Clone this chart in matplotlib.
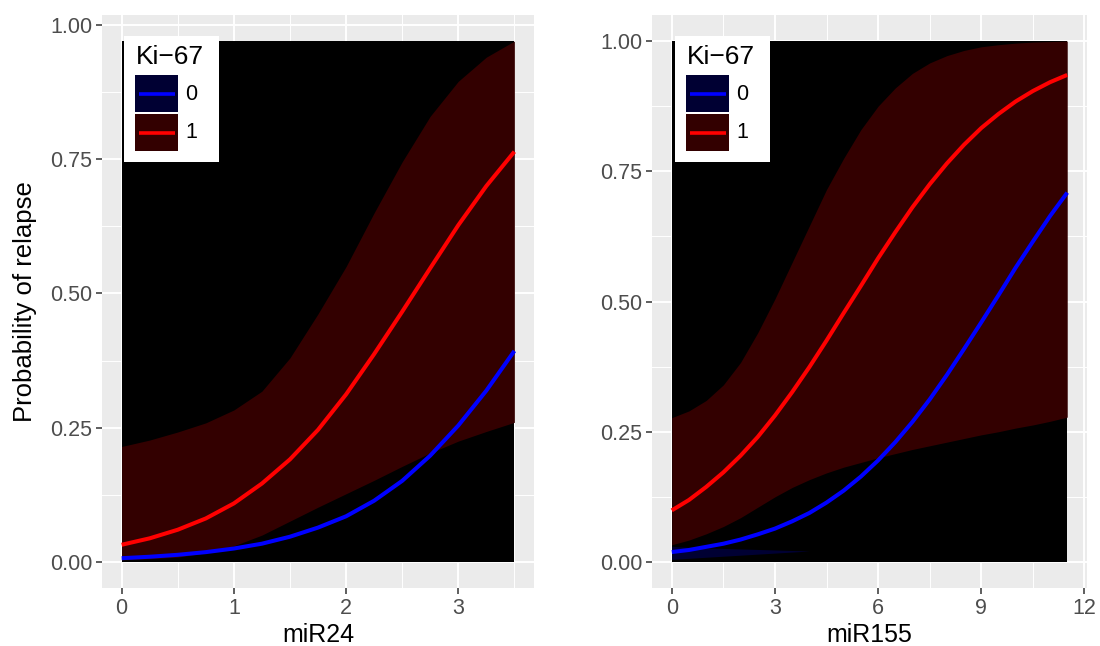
import numpy as np
import matplotlib
matplotlib.use("Agg")
from matplotlib import pyplot as plt
from matplotlib.patches import Rectangle
from matplotlib.lines import Line2D

plt.rcParams['font.family'] = ['Liberation Sans', 'DejaVu Sans']

W, H = 1100, 646

# miR24 panel
mir24 = [0, 0.25, 0.5, 0.75, 1, 1.25, 1.5, 1.75, 2, 2.25, 2.5, 2.75, 3, 3.25, 3.5]
mir24_p0 = [0.007, 0.0097, 0.0133, 0.0183, 0.025, 0.034, 0.047, 0.064, 0.085, 0.114,
            0.151, 0.198, 0.254, 0.319, 0.393]
mir24_p1 = [0.032, 0.044, 0.060, 0.081, 0.109, 0.146, 0.191, 0.246, 0.312, 0.387,
            0.466, 0.547, 0.627, 0.700, 0.764]
mir24_lo1 = [0.004, 0.006, 0.009, 0.017, 0.030, 0.050, 0.076, 0.102, 0.127, 0.152,
             0.178, 0.203, 0.225, 0.243, 0.260]
mir24_hi1 = [0.215, 0.227, 0.242, 0.259, 0.283, 0.318, 0.380, 0.462, 0.550, 0.650,
             0.745, 0.830, 0.895, 0.940, 0.970]

# miR155 panel
mir155 = [0, 0.5, 1, 1.5, 2, 2.5, 3, 3.5, 4, 4.5, 5, 5.5, 6, 6.5, 7, 7.5, 8, 8.5,
          9, 9.5, 10, 10.5, 11, 11.5]
mir155_p0 = [0.019, 0.023, 0.029, 0.035, 0.043, 0.053, 0.064, 0.078, 0.094, 0.114,
             0.137, 0.164, 0.195, 0.230, 0.269, 0.312, 0.359, 0.409, 0.460, 0.512,
             0.565, 0.615, 0.664, 0.709]
mir155_p1 = [0.099, 0.119, 0.144, 0.172, 0.204, 0.240, 0.281, 0.326, 0.374, 0.425,
             0.478, 0.530, 0.583, 0.633, 0.681, 0.725, 0.765, 0.801, 0.833, 0.860,
             0.884, 0.904, 0.921, 0.935]
mir155_lo1 = [0.033, 0.042, 0.054, 0.068, 0.085, 0.105, 0.125, 0.143, 0.158, 0.171,
              0.182, 0.191, 0.200, 0.208, 0.216, 0.223, 0.230, 0.237, 0.244, 0.250,
              0.257, 0.263, 0.270, 0.278]
mir155_hi1 = [0.277, 0.290, 0.310, 0.340, 0.383, 0.440, 0.505, 0.575, 0.645, 0.715,
              0.775, 0.830, 0.875, 0.910, 0.938, 0.958, 0.972, 0.982, 0.989, 0.993,
              0.996, 0.998, 0.999, 1.000]
# faint streak of the Ki-67 = 0 band near the bottom
mir155_x0 = [0, 0.5, 1, 1.5, 2, 2.5, 3, 3.5, 4]
mir155_lo0 = [0.005, 0.007, 0.009, 0.011, 0.013, 0.015, 0.017, 0.019, 0.021]
mir155_hi0 = [0.030, 0.028, 0.027, 0.026, 0.025, 0.024, 0.023, 0.022, 0.021]

legend_title = 'Ki\u221267'
legend_labels = ['0', '1']

RED_FILL = '#330000'
BLUE_FILL = '#000033'


def style_axes(ax, xticks, xminor, xlabel):
  ax.set_facecolor('#EBEBEB')
  for s in ax.spines.values():
    s.set_visible(False)
  ax.set_axisbelow(True)
  ax.set_xticks(xticks)
  ax.set_xticks(xminor, minor=True)
  ax.set_yticks([0, 0.25, 0.5, 0.75, 1.0])
  ax.set_yticks([0.125, 0.375, 0.625, 0.875], minor=True)
  ax.set_yticklabels(['0.00', '0.25', '0.50', '0.75', '1.00'])
  ax.grid(which='major', color='white', lw=1.4)
  ax.grid(which='minor', color='white', lw=0.7)
  ax.tick_params(which='major', length=4, width=1.1, color='#333333',
                 labelsize=15.5, labelcolor='#4D4D4D', pad=3)
  ax.tick_params(which='minor', length=0)
  ax.set_xlabel(xlabel, fontsize=18, labelpad=3)


def draw_panel(ax, x, p0, p1, lo1, hi1):
  ax.fill_between(x, 0, max(hi1), color='black', lw=0, zorder=0.9)
  ax.fill_between(x, lo1, hi1, color=RED_FILL, lw=0, zorder=1.0)
  ax.plot(x, p0, color='blue', lw=2.9, solid_capstyle='butt', zorder=2)
  ax.plot(x, p1, color='red', lw=2.9, solid_capstyle='butt', zorder=2)
  span = max(x) - min(x)
  top = max(hi1)
  ax.set_xlim(min(x) - 0.05 * span, max(x) + 0.05 * span)
  ax.set_ylim(-0.05 * top, top * 1.05)


def fx(px):
  return px / W


def fy(py):
  return (H - py) / H


def add_legend(fig, left):
  # white box
  fig.add_artist(Rectangle((fx(left), fy(162)), 95 / W, 126 / H,
                           transform=fig.transFigure, facecolor='white',
                           edgecolor='none', zorder=5))
  fig.text(fx(left + 12), fy(64), legend_title, fontsize=19, color='black',
           ha='left', va='baseline', zorder=6)
  fills = [BLUE_FILL, RED_FILL]
  lines = ['blue', 'red']
  tops = [75, 114]
  for lab, fc, lc, top in zip(legend_labels, fills, lines, tops):
    fig.add_artist(Rectangle((fx(left + 11), fy(top + 37)), 43 / W, 37 / H,
                             transform=fig.transFigure, facecolor=fc,
                             edgecolor='none', zorder=6))
    fig.add_artist(Line2D([fx(left + 15), fx(left + 51)],
                          [fy(top + 18.5), fy(top + 18.5)],
                          transform=fig.transFigure, color=lc, lw=2.6,
                          solid_capstyle='butt', zorder=7))
    fig.text(fx(left + 61), fy(top + 19), lab, fontsize=15.5, color='black',
             ha='left', va='center', zorder=6)


fig = plt.figure(figsize=(11, 6.46), dpi=100)
ax1 = fig.add_axes([102 / W, 58 / H, 432 / W, 573 / H])
ax2 = fig.add_axes([652 / W, 58 / H, 435 / W, 573 / H])

draw_panel(ax1, mir24, mir24_p0, mir24_p1, mir24_lo1, mir24_hi1)
style_axes(ax1, [0, 1, 2, 3], [0.5, 1.5, 2.5, 3.5], 'miR24')
ax1.set_ylabel('Probability of relapse', fontsize=18.5, labelpad=9)

ax2.fill_between(mir155_x0, mir155_lo0, mir155_hi0, color=BLUE_FILL, lw=0, zorder=1.5)
draw_panel(ax2, mir155, mir155_p0, mir155_p1, mir155_lo1, mir155_hi1)
style_axes(ax2, [0, 3, 6, 9, 12], [1.5, 4.5, 7.5, 10.5], 'miR155')

add_legend(fig, 124)
add_legend(fig, 675)

fig.savefig('out.png', dpi=100)
